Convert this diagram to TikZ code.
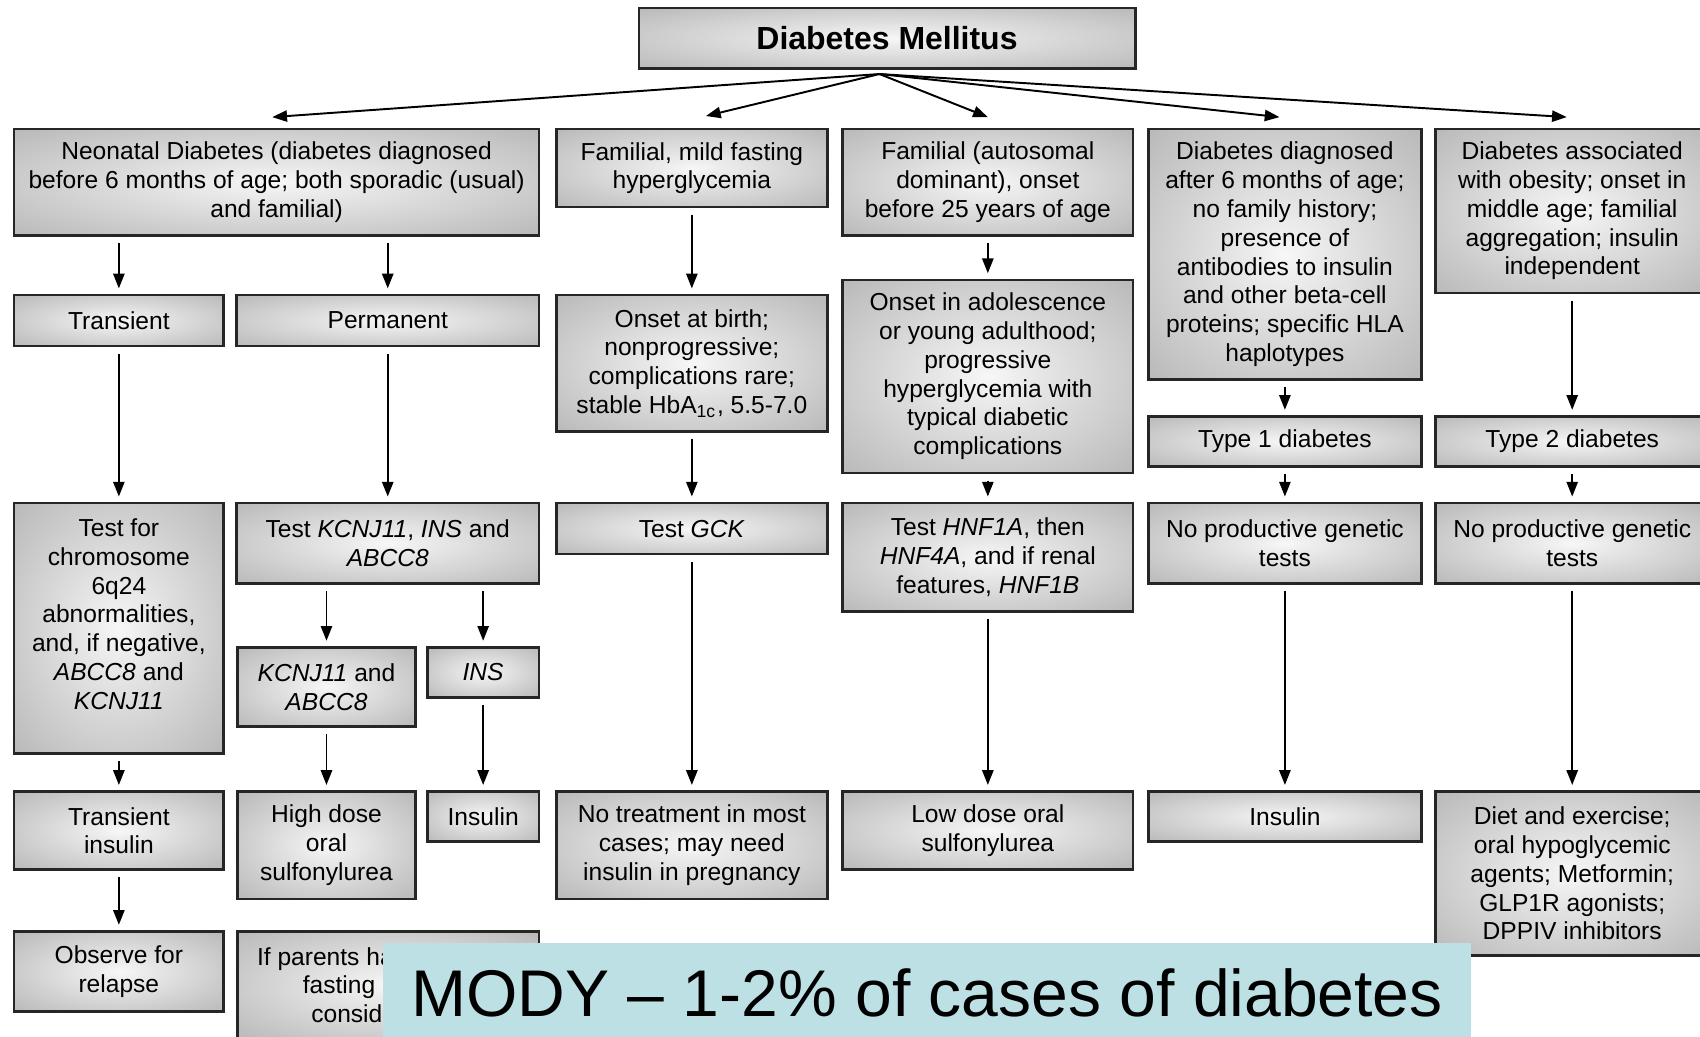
\documentclass[tikz,border=0pt]{standalone}
\usepackage{fontspec}
\setmainfont{Liberation Sans}
\usepackage{tikz}
\usetikzlibrary{arrows.meta}
\definecolor{modyblue}{RGB}{188,224,228}
\newlength{\dpx}
\setlength{\dpx}{0.010842cm}
\pgfdeclareradialshading{boxglow}{\pgfpointorigin}{color(0bp)=(white!97!black); color(5bp)=(white!93!black); color(48bp)=(black!36); color(72bp)=(black!44)}

\begin{document}
\begin{tikzpicture}[
      x=\dpx, y=-\dpx,
      box/.style={draw=black!85, line width=0.7pt, shade, shading=boxglow,
                  anchor=north west, inner sep=0pt, align=center,
                  font=\fontsize{7}{8.2}\selectfont},
      headbox/.style={box, font=\fontsize{9.1}{11}\selectfont\bfseries},
      banner/.style={fill=modyblue, anchor=north west, inner sep=0pt,
                     font=\fontsize{18.8}{22}\selectfont},
      arr/.style={-{Triangle[length=4.2pt,width=3.2pt]}, line width=0.55pt,
                  shorten <=6\dpx, shorten >=5\dpx}]
    \useasboundingbox (0,0) rectangle (1568,956);

    % -- Top --
    \node[headbox, minimum width=458\dpx, minimum height=56\dpx] (dm) at (588,6)
      {Diabetes Mellitus};
    \coordinate (hub) at ([xshift=-7\dpx, yshift=-4\dpx]dm.south);

    % -- First row --
    \node[box, minimum width=484\dpx, minimum height=98\dpx] (neo) at (12,118)
      {Neonatal Diabetes (diabetes diagnosed\\before 6 months of age; both sporadic (usual)\\and familial)};
    \node[box, minimum width=250\dpx, minimum height=72\dpx] (mild) at (512,118)
      {Familial, mild fasting\\hyperglycemia};
    \node[box, minimum width=268\dpx, minimum height=98\dpx] (auto) at (776,118)
      {Familial (autosomal\\dominant), onset\\before 25 years of age};
    \node[box, minimum width=252\dpx, minimum height=231\dpx] (late) at (1058,118)
      {Diabetes diagnosed\\after 6 months of age;\\no family history;\\presence of\\antibodies to insulin\\and other beta-cell\\proteins; specific HLA\\haplotypes};
    \node[box, minimum width=252\dpx, minimum height=151\dpx] (obes) at (1323,118)
      {Diabetes associated\\with obesity; onset in\\middle age; familial\\aggregation; insulin\\independent};

    % -- Second row --
    \node[box, minimum width=193\dpx, minimum height=47\dpx] (tra) at (12,271) {Transient};
    \node[box, minimum width=279\dpx, minimum height=47\dpx] (perm) at (217,271) {Permanent};
    \node[box, minimum width=250\dpx, minimum height=126\dpx] (birth) at (512,271)
      {Onset at birth;\\nonprogressive;\\complications rare;\\stable HbA\textsubscript{1c}, 5.5-7.0};
    \node[box, minimum width=268\dpx, minimum height=178\dpx] (adol) at (776,257)
      {Onset in adolescence\\or young adulthood;\\progressive\\hyperglycemia with\\typical diabetic\\complications};
    \node[box, minimum width=252\dpx, minimum height=46\dpx] (tone) at (1058,383) {Type 1 diabetes};
    \node[box, minimum width=252\dpx, minimum height=46\dpx] (ttwo) at (1323,383) {Type 2 diabetes};

    % -- Tests --
    \node[box, minimum width=193\dpx, minimum height=231\dpx] (chr) at (12,463)
      {Test for\\chromosome\\6q24\\abnormalities,\\and, if negative,\\\textit{ABCC8} and\\\textit{KCNJ11}\\\mbox{}};
    \node[box, minimum width=279\dpx, minimum height=74\dpx] (tkcn) at (217,463)
      {Test \textit{KCNJ11}, \textit{INS} and\\\textit{ABCC8}};
    \node[box, minimum width=250\dpx, minimum height=47\dpx] (gck) at (512,463) {Test \textit{GCK}};
    \node[box, minimum width=268\dpx, minimum height=100\dpx] (hnf) at (776,463)
      {Test \textit{HNF1A}, then\\\textit{HNF4A}, and if renal\\features, \textit{HNF1B}};
    \node[box, minimum width=252\dpx, minimum height=74\dpx] (nogo) at (1058,463)
      {No productive genetic\\tests};
    \node[box, minimum width=252\dpx, minimum height=74\dpx] (nogt) at (1323,463)
      {No productive genetic\\tests};
    \node[box, minimum width=164\dpx, minimum height=73\dpx] (kcab) at (218,596)
      {\textit{KCNJ11} and\\\textit{ABCC8}};
    \node[box, minimum width=103\dpx, minimum height=46\dpx] (ins) at (393,596) {\textit{INS}};

    % -- Treatment --
    \node[box, minimum width=193\dpx, minimum height=72\dpx] (tins) at (12,729) {Transient\\insulin};
    \node[box, minimum width=164\dpx, minimum height=99\dpx] (hsu) at (218,729) {High dose\\oral\\sulfonylurea};
    \node[box, minimum width=103\dpx, minimum height=46\dpx] (insa) at (393,729) {Insulin};
    \node[box, minimum width=250\dpx, minimum height=99\dpx] (notr) at (512,729)
      {No treatment in most\\cases; may need\\insulin in pregnancy};
    \node[box, minimum width=268\dpx, minimum height=72\dpx] (lsu) at (776,729) {Low dose oral\\sulfonylurea};
    \node[box, minimum width=252\dpx, minimum height=46\dpx] (insd) at (1058,729) {Insulin};
    \node[box, minimum width=252\dpx, minimum height=151\dpx] (diet) at (1323,729)
      {Diet and exercise;\\oral hypoglycemic\\agents; Metformin;\\GLP1R agonists;\\DPPIV inhibitors};
    \node[box, minimum width=193\dpx, minimum height=74\dpx] (obs) at (12,858) {Observe for\\relapse};
    \node[box, minimum width=278\dpx, minimum height=99\dpx] (par) at (218,858)
      {If parents have elevated\\fasting glucose,\\consider \textit{GCK}};

    % -- Arrows from the top --
    \draw[arr, shorten <=0pt, shorten >=0pt] (hub) -- ([xshift=-4\dpx, yshift=10\dpx]neo.north);
    \draw[arr, shorten <=0pt, shorten >=0pt] (hub) -- ([xshift=13\dpx, yshift=11\dpx]mild.north);
    \draw[arr, shorten <=0pt, shorten >=0pt] (hub) -- ([yshift=10\dpx]auto.north);
    \draw[arr, shorten <=0pt, shorten >=0pt] (hub) -- ([xshift=-5\dpx, yshift=10\dpx]late.north);
    \draw[arr, shorten <=0pt, shorten >=0pt] (hub) -- ([xshift=-5\dpx, yshift=10\dpx]obes.north);

    % -- Down the columns --
    \draw[arr] (neo.south -| tra) -- (tra.north);
    \draw[arr] (neo.south -| perm) -- (perm.north);
    \draw[arr] (tra) -- (chr);
    \draw[arr] (perm) -- (tkcn);
    \draw[arr] (tkcn.south -| kcab) -- (kcab.north);
    \draw[arr] (tkcn.south -| ins) -- (ins.north);
    \draw[arr] (chr) -- (tins);
    \draw[arr] (kcab) -- (hsu);
    \draw[arr] (ins) -- (insa);
    \draw[arr] (tins) -- (obs);
    \draw[arr] (mild.south -| birth) -- (birth.north);
    \draw[arr] (birth) -- (gck);
    \draw[arr] (gck) -- (notr);
    \draw[arr] (auto) -- (adol);
    \draw[arr] (adol) -- (hnf);
    \draw[arr] (hnf) -- (lsu);
    \draw[arr] (late) -- (tone);
    \draw[arr] (tone) -- (nogo);
    \draw[arr] (nogo) -- (insd);
    \draw[arr] (obes) -- (ttwo);
    \draw[arr] (ttwo) -- (nogt);
    \draw[arr] (nogt) -- (diet);

    % -- Banner --
    \node[banner, minimum width=1003\dpx, minimum height=92\dpx] (mody) at (353,869)
      {MODY – 1-2\% of cases of diabetes};

  \end{tikzpicture}
\end{document}
